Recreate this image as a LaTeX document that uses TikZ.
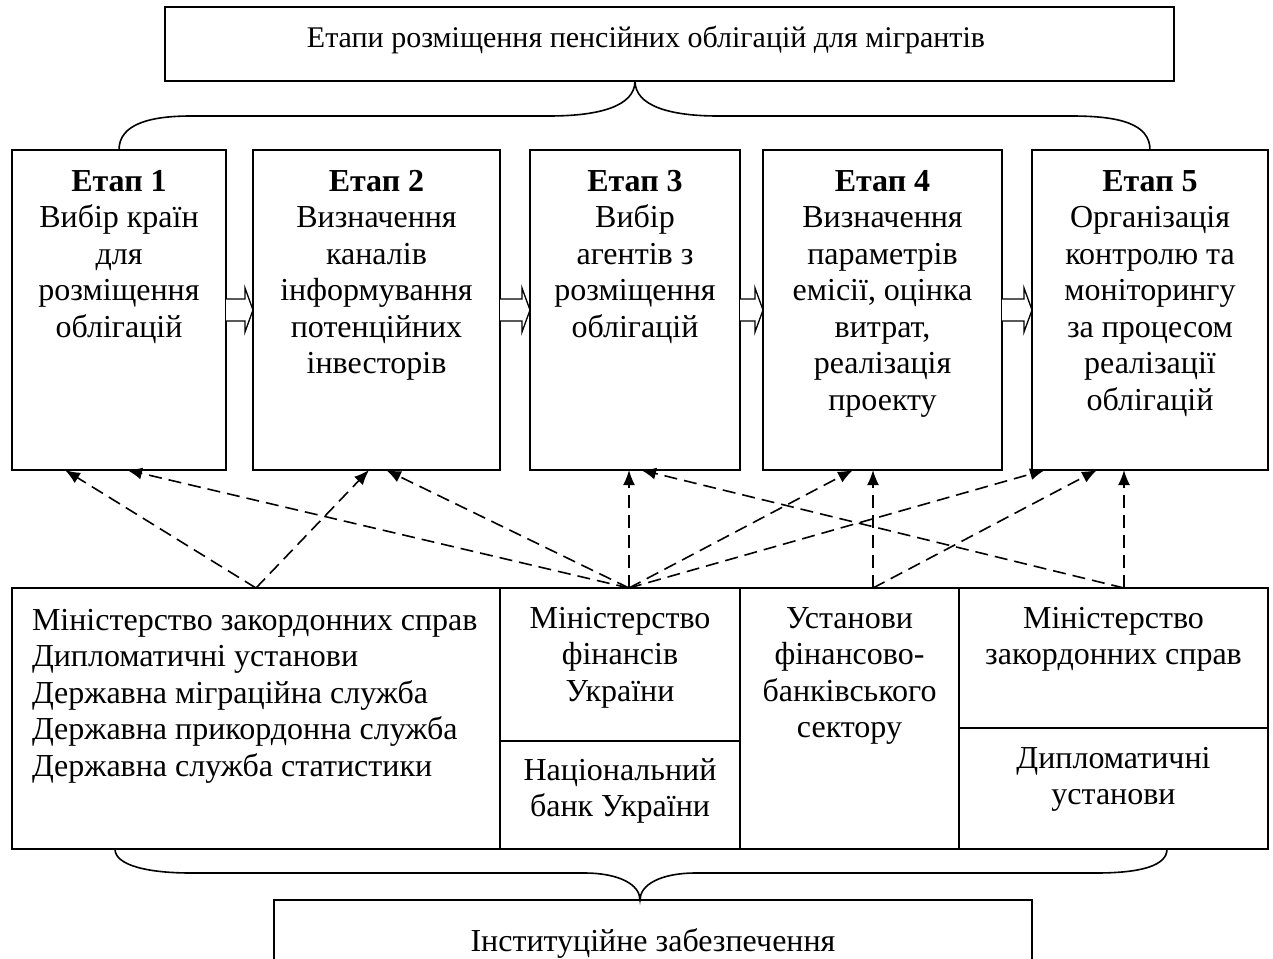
\documentclass[tikz,border=0pt]{standalone}
\usepackage{fontspec}
\setmainfont{Liberation Serif}
\usetikzlibrary{arrows.meta,calc}
\newcommand\mystrut{\rule{0pt}{23pt}}
\begin{document}
\begin{tikzpicture}[x=1pt,y=-1pt,
  box/.style={draw,line width=1.6pt,inner sep=0pt,outer sep=0pt,anchor=north west},
  txt/.style={inner sep=0pt,outer sep=0pt,font=\fontsize{32}{36.5}\selectfont,align=center,anchor=north},
  dep/.style={draw,line width=1.6pt,dash pattern=on 13pt off 7pt,-{Latex[length=15pt,width=12pt]}},
  brace/.style={draw,line width=1.6pt},
  hollow/.style={draw,line width=1.3pt,fill=white,line join=miter}]
\useasboundingbox (0,0) rectangle (1273,958);
\fill[white] (0,0) rectangle (1273,958);
\clip (0,0) rectangle (1273,958);

% top box
\node[box,minimum width=1009pt,minimum height=74pt] (top) at (165,7) {};
\node[txt,font=\fontsize{30}{36}\selectfont] (ttop) at (646,24.5) {\mystrut Етапи розміщення пенсійних облігацій для мігрантів};

% stage boxes
\node[box,minimum width=214pt,minimum height=320pt] (s1) at (12,150) {};
\node[box,minimum width=247pt,minimum height=320pt] (s2) at (253,150) {};
\node[box,minimum width=210pt,minimum height=320pt] (s3) at (530,150) {};
\node[box,minimum width=239pt,minimum height=320pt] (s4) at (763,150) {};
\node[box,minimum width=236pt,minimum height=320pt] (s5) at (1032,150) {};

\node[txt] (st1) at (119,168) {\mystrut\textbf{Етап 1}\\Вибір країн\\для\\розміщення\\облігацій};
\node[txt] (st2) at (376.5,168) {\mystrut\textbf{Етап 2}\\Визначення\\каналів\\інформування\\потенційних\\інвесторів};
\node[txt] (st3) at (635,168) {\mystrut\textbf{Етап 3}\\Вибір\\агентів з\\розміщення\\облігацій};
\node[txt] (st4) at (882.5,168) {\mystrut\textbf{Етап 4}\\Визначення\\параметрів\\емісії, оцінка\\витрат,\\реалізація\\проекту};
\node[txt] (st5) at (1150,168) {\mystrut\textbf{Етап 5}\\Організація\\контролю та\\моніторингу\\за процесом\\реалізації\\облігацій};

% hollow arrows between stages
\foreach \a/\b in {s1/s2,s2/s3,s3/s4,s4/s5}{
  \draw[hollow] ([yshift=11pt]\a.east) -- ([xshift=-8pt,yshift=11pt]\b.west) -- ([xshift=-8pt,yshift=22pt]\b.west) -- (\b.west) -- ([xshift=-8pt,yshift=-22pt]\b.west) -- ([xshift=-8pt,yshift=-11pt]\b.west) -- ([yshift=-11pt]\a.east);
}

% top brace
\draw[brace] (s1.north) .. controls (119,124) and (150,116) .. (191,116) -- (549,116)
  .. controls (600,116) and (635,106) .. (635,81)
  .. controls (635,106) and (670,116) .. (718,116) -- (1072,116)
  .. controls (1120,116) and (1150,124) .. (s5.north);

% bottom table
\node[box,minimum width=488pt,minimum height=261pt] (inst1) at (12,588) {};
\node[box,minimum width=240pt,minimum height=153pt] (minfin) at (500,588) {};
\node[box,minimum width=240pt,minimum height=108pt] (nbu) at (500,741) {};
\node[box,minimum width=219pt,minimum height=261pt] (banks) at (740,588) {};
\node[box,minimum width=309pt,minimum height=140pt] (mzs) at (959,588) {};
\node[box,minimum width=309pt,minimum height=121pt] (dipl) at (959,728) {};

\node[txt,align=left,anchor=north west] (tinst1) at (32,607) {\mystrut Міністерство закордонних справ\\Дипломатичні установи\\Державна міграційна служба\\Державна прикордонна служба\\Державна служба статистики};
\node[txt] (tminfin) at (620,605) {\mystrut Міністерство\\фінансів\\України};
\node[txt] (tnbu) at (620,757) {\mystrut Національний\\банк України};
\node[txt] (tbanks) at (849.5,605) {\mystrut Установи\\фінансово-\\банківського\\сектору};
\node[txt] (tmzs) at (1113.5,605) {\mystrut Міністерство\\закордонних справ};
\node[txt] (tdipl) at (1113.5,745) {\mystrut Дипломатичні\\установи};

% dashed arrows
\coordinate (p1) at (inst1.north);
\coordinate (p2) at (629,588);
\coordinate (p3) at (873,588);
\coordinate (p4) at (1124,588);
\draw[dep] (p1) -- ($(s1.south west)+(53,0)$);
\draw[dep] (p1) -- ($(s2.south west)+(116,0)$);
\draw[dep] (p2) -- ($(s1.south west)+(115,0)$);
\draw[dep] (p2) -- ($(s2.south west)+(133,0)$);
\draw[dep] (p2) -- ($(s3.south west)+(99,0)$);
\draw[dep] (p2) -- ($(s4.south west)+(90,0)$);
\draw[dep] (p2) -- ($(s5.south west)+(13,0)$);
\draw[dep] (p3) -- ($(s4.south west)+(110,0)$);
\draw[dep] (p3) -- ($(s5.south west)+(65,0)$);
\draw[dep] (p4) -- ($(s5.south west)+(92,0)$);
\draw[dep] (p4) -- ($(s3.south west)+(111,0)$);

% bottom brace
\draw[brace] (115,849) .. controls (115,866) and (150,873) .. (191,873) -- (584,873)
  .. controls (620,873) and (640,885) .. (640,900)
  .. controls (640,885) and (660,873) .. (696,873) -- (1096,873)
  .. controls (1140,873) and (1167,866) .. (1167,849);

% bottom box
\node[box,minimum width=758pt,minimum height=90pt] (inst) at (274,900) {};
\node[txt] (tinst) at (653,928) {\mystrut Інституційне забезпечення};
\end{tikzpicture}
\end{document}
